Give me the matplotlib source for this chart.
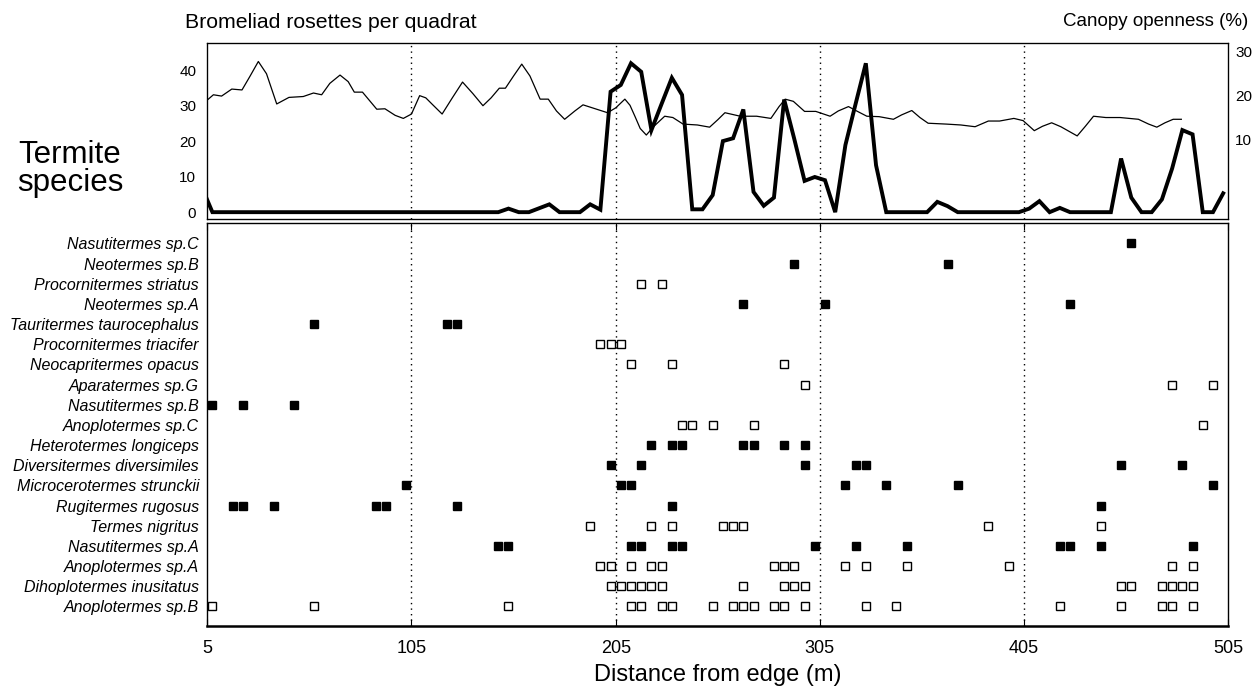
import matplotlib
matplotlib.use("Agg")
import matplotlib.pyplot as plt

plt.rcParams["font.family"] = ["Liberation Sans", "DejaVu Sans"]

# ---- data -----------------------------------------------------------------
# bromeliad rosettes per quadrat (left axis), quadrat centres every 5 m
bro_x = [2.5] + [7.5 + 5 * i for i in range(100)]
bro_y = [6.8] + [0] * 29 + [
    1.0, 0, 0, 1.1, 2.2, 0, 0, 0, 2.2, 0.7,          # 152.5 - 197.5
    33.9, 35.8, 41.9, 39.5, 23.1, 30.5, 37.8, 33.0, 0.8, 0.8,   # 202.5 - 247.5
    4.8, 20.0, 20.8, 28.9, 5.7, 1.8, 4.1, 31.7, 20.5, 8.8,      # 252.5 - 297.5
    9.9, 9.0, 0, 18.9, 30.5, 41.9, 13.2, 0, 0, 0,              # 302.5 - 347.5
    0, 0, 2.9, 1.7, 0, 0, 0, 0, 0, 0,                          # 352.5 - 397.5
    0, 1.0, 3.1, 0, 1.2, 0, 0, 0, 0, 0,                        # 402.5 - 447.5
    15.1, 4.1, 0, 0, 3.6, 12.3, 23.1, 21.9, 0, 0,              # 452.5 - 497.5
    5.3,                                                       # 502.5
]

# canopy openness (%) (right axis)
can_x = [5, 8, 12, 17, 22, 26, 30, 34, 39, 45, 52, 57, 61, 65, 70, 74, 77, 81,
         88, 92, 97, 101, 105, 109, 112, 115, 120, 125, 130, 135, 140, 144, 148,
         151, 155, 159, 163, 168, 172, 176, 180, 185, 189, 195, 201, 205, 209.5,
         212, 214.5, 217, 220, 223.5, 229, 233, 238, 245, 251, 255, 258.5, 266,
         274, 281, 285, 288, 292, 297.5, 303, 310, 314, 319, 323, 328, 334, 341,
         345, 350, 354, 358, 367, 374, 381, 387.5, 393, 400, 404.5, 410, 414,
         418.5, 423, 431, 435, 439, 445, 452, 461, 466, 470, 474, 478, 482]
can_y = [19.0, 20.2, 19.9, 21.5, 21.3, 24.5, 27.8, 25.0, 18.1, 19.6, 19.8, 20.6,
         20.2, 22.8, 24.7, 23.2, 20.8, 20.8, 16.9, 17.0, 15.5, 14.8, 15.8, 20.0,
         19.5, 18.1, 15.8, 19.5, 23.1, 20.5, 17.7, 19.5, 21.7, 21.7, 24.5, 27.2,
         24.5, 19.2, 19.2, 16.5, 14.6, 16.5, 17.9, 17.0, 16.1, 17.2, 19.2, 17.8,
         15.2, 12.5, 11.0, 12.9, 15.3, 15.0, 13.5, 13.3, 12.8, 14.5, 16.1, 15.3,
         15.3, 14.8, 17.5, 19.2, 18.7, 16.4, 16.4, 15.3, 16.5, 17.5, 16.5, 15.3,
         15.2, 14.6, 15.6, 16.6, 15.0, 13.7, 13.5, 13.3, 12.9, 14.2, 14.2, 14.8,
         14.3, 12.0, 13.0, 13.8, 12.9, 10.8, 13.0, 15.3, 15.0, 15.0, 14.6, 13.5,
         12.8, 13.8, 14.6, 14.6]

# termite species, top to bottom, with occurrence positions (m)
species = [
    "Nasutitermes sp.C", "Neotermes sp.B", "Procornitermes striatus",
    "Neotermes sp.A", "Tauritermes taurocephalus", "Procornitermes triacifer",
    "Neocapritermes opacus", "Aparatermes sp.G", "Nasutitermes sp.B",
    "Anoplotermes sp.C", "Heterotermes longiceps", "Diversitermes diversimiles",
    "Microcerotermes strunckii", "Rugitermes rugosus", "Termes nigritus",
    "Nasutitermes sp.A", "Anoplotermes sp.A", "Dihoplotermes inusitatus",
    "Anoplotermes sp.B",
]
filled = [True, True, False, True, True, False, False, False, True, False,
          True, True, True, True, False, True, False, False, False]
occurrences = [
    [457.5],
    [292.5, 367.5],
    [217.5, 227.5],
    [267.5, 307.5, 427.5],
    [57.5, 122.5, 127.5],
    [197.5, 202.5, 207.5],
    [212.5, 232.5, 287.5],
    [297.5, 477.5, 497.5],
    [7.5, 22.5, 47.5],
    [237.5, 242.5, 252.5, 272.5, 492.5],
    [222.5, 232.5, 237.5, 267.5, 272.5, 287.5, 297.5],
    [202.5, 217.5, 297.5, 322.5, 327.5, 452.5, 482.5],
    [102.5, 207.5, 212.5, 317.5, 337.5, 372.5, 497.5],
    [17.5, 22.5, 37.5, 87.5, 92.5, 127.5, 232.5, 442.5],
    [192.5, 222.5, 232.5, 257.5, 262.5, 267.5, 387.5, 442.5],
    [147.5, 152.5, 212.5, 217.5, 232.5, 237.5, 302.5, 322.5, 347.5, 422.5,
     427.5, 442.5, 487.5],
    [197.5, 202.5, 212.5, 222.5, 227.5, 282.5, 287.5, 292.5, 317.5, 327.5,
     347.5, 397.5, 477.5, 487.5],
    [202.5, 207.5, 212.5, 217.5, 222.5, 227.5, 267.5, 287.5, 292.5, 297.5,
     452.5, 457.5, 472.5, 477.5, 482.5, 487.5],
    [7.5, 57.5, 152.5, 212.5, 217.5, 227.5, 232.5, 252.5, 262.5, 267.5, 272.5,
     282.5, 287.5, 297.5, 327.5, 342.5, 422.5, 452.5, 472.5, 477.5, 487.5],
]

x_ticks = [5, 105, 205, 305, 405, 505]
grid_x = [105, 205, 305, 405]

# ---- figure -----------------------------------------------------------------
fig = plt.figure(figsize=(12.54, 6.95), dpi=100)
ax_top = fig.add_axes([0.1653, 0.6845, 0.8142, 0.2541])
ax_bot = fig.add_axes([0.1653, 0.0986, 0.8142, 0.5801])
ax_can = ax_top.twinx()

dot = dict(color="black", lw=1.0, linestyle=(0, (1, 3)), zorder=1)

# top panel
ax_top.plot(bro_x, bro_y, color="black", lw=2.8, solid_joinstyle="miter", zorder=3)
ax_can.plot(can_x, can_y, color="black", lw=0.9, solid_joinstyle="round", zorder=3)
for gx in grid_x:
    ax_top.axvline(gx, **dot)
ax_top.set_xlim(5, 505)
ax_top.set_ylim(-2, 47.7)
ax_can.set_ylim(-8.24, 32.1)
ax_top.set_xticks([])
ax_top.set_yticks([0, 10, 20, 30, 40])
ax_can.set_yticks([10, 20, 30])
ax_top.tick_params(axis="y", length=0, pad=8, labelsize=11)
ax_can.tick_params(axis="y", length=0, pad=5, labelsize=11)
for sp in ax_top.spines.values():
    sp.set_linewidth(0.9)

# bottom panel
n = len(species)
for i, (name, xs, full) in enumerate(zip(species, occurrences, filled)):
    yv = n - i
    ax_bot.plot(xs, [yv] * len(xs), linestyle="none", marker="s",
                markersize=6.2, markeredgewidth=1.0, markeredgecolor="black",
                markerfacecolor="black" if full else "white",
                clip_on=False, zorder=3)
for gx in grid_x:
    ax_bot.axvline(gx, **dot)
ax_bot.set_xlim(5, 505)
ax_bot.set_ylim(0, 20)
ax_bot.set_yticks(range(n, 0, -1))
ax_bot.set_yticklabels(species, fontstyle="italic", fontsize=11.5)
ax_bot.tick_params(axis="y", length=0, pad=6)
ax_bot.set_xticks(x_ticks)
ax_bot.set_xticklabels([str(t) for t in x_ticks], fontsize=13)
ax_bot.tick_params(axis="x", direction="in", length=5, pad=10, top=True)
ax_bot.set_xlabel("Distance from edge (m)", fontsize=17, labelpad=5)
for sp in ax_bot.spines.values():
    sp.set_linewidth(1.0)
ax_bot.spines["bottom"].set_linewidth(1.8)

# texts
fig.text(185 / 1254, 1 - 22 / 695, "Bromeliad rosettes per quadrat",
         fontsize=15.3, ha="left", va="center")
fig.text(1248 / 1254, 1 - 22 / 695, "Canopy openness (%)",
         fontsize=13.5, ha="right", va="center")
fig.text(70 / 1254, 1 - 169 / 695, "Termite\nspecies", fontsize=22.5,
         ha="center", va="center", linespacing=0.95)

fig.savefig("out.png", dpi=100)
